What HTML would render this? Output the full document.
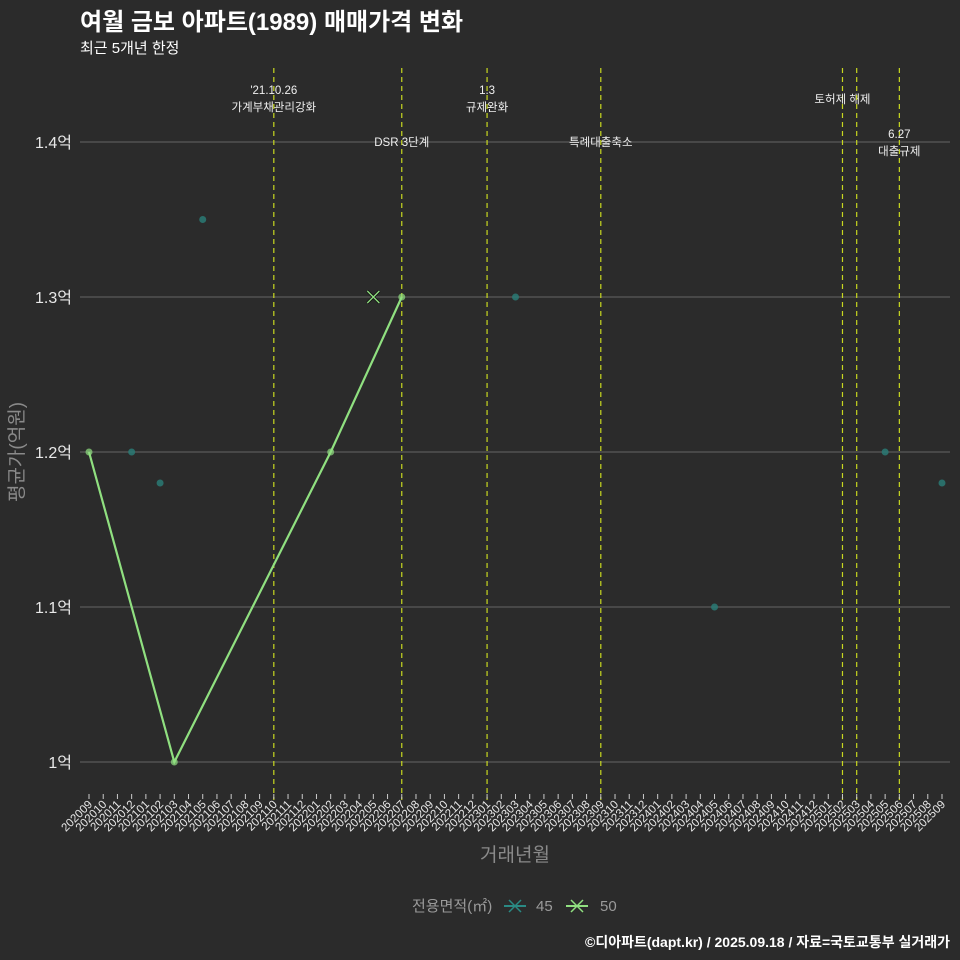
<!DOCTYPE html>
<html><head><meta charset="utf-8"><style>
body{margin:0;background:#2b2b2b;}
svg{display:block;font-family:"Liberation Sans","Noto Sans CJK KR",sans-serif;}
</style></head><body>
<svg id="c" width="960" height="960" viewBox="0 0 960 960">
<rect width="960" height="960" fill="#2b2b2b"/>
<text x="80" y="30" font-size="24" font-weight="bold" fill="#ffffff">여월 금보 아파트(1989) 매매가격 변화</text>
<text x="80" y="53" font-size="15" fill="#ffffff">최근 5개년 한정</text>
<g id="grid"></g>
<g id="vlines"></g>
<g id="marks"></g>
<g id="xaxis"></g>
<text x="515" y="861" font-size="19" fill="#8a8a8a" text-anchor="middle">거래년월</text>
<text transform="translate(23,452) rotate(-90)" font-size="19" fill="#8a8a8a" text-anchor="middle">평균가(억원)</text>
<g>
<text x="412" y="911" font-size="15" fill="#9a9a9a">전용면적(㎡)</text>
<g><line x1="504" y1="906" x2="526" y2="906" stroke="#2a8a84" stroke-width="2"/><path d="M509,900 L521,912 M521,900 L509,912" stroke="#2a8a84" stroke-width="1.5"/><text x="536" y="911" font-size="15" fill="#9a9a9a">45</text></g>
<g><line x1="566" y1="906" x2="588" y2="906" stroke="#90e080" stroke-width="2"/><path d="M571,900 L583,912 M583,900 L571,912" stroke="#90e080" stroke-width="1.5"/><text x="600" y="911" font-size="15" fill="#9a9a9a">50</text></g>
</g>
<text x="950" y="947" font-size="14" font-weight="bold" fill="#ffffff" text-anchor="end">©디아파트(dapt.kr) / 2025.09.18 / 자료=국토교통부 실거래가</text>
</svg>
<script>
const months=[];for(let y=2020;y<=2025;y++)for(let m=1;m<=12;m++){const k=y*100+m;if(k>=202009&&k<=202509)months.push(String(k));}
const yTicks=[1.0,1.1,1.2,1.3,1.4];
const yTickLabels=["1억","1.1억","1.2억","1.3억","1.4억"];
const s45Months=["202012","202102","202105","202303","202405","202505","202509"];
const s45Values=[1.2,1.18,1.35,1.3,1.1,1.2,1.18];
const s50Months=["202009","202103","202202","202207"];
const s50Values=[1.2,1.0,1.2,1.3];
const xMarkMonths=["202205"];
const xMarkValues=[1.3];
const eventMonths=["202110","202207","202301","202309","202502","202503","202506"];
const eventLabels=[["'21.10.26","가계부채관리강화"],["DSR 3단계"],["1.3","규제완화"],["특례대출축소"],["토허제 해제"],[],["6.27","대출규제"]];
const eventLabelY=[90,142,90,142,99,0,134];
const NS="http://www.w3.org/2000/svg";
const X=m=>89+months.indexOf(m)*(942-89)/(months.length-1);
const Y=v=>762-(v-1.0)*1550;
function mk(p,t,a){const e=document.createElementNS(NS,t);for(const k in a)e.setAttribute(k,a[k]);p.appendChild(e);return e;}
const grid=document.getElementById('grid');
yTicks.forEach((v,i)=>{
 const l=mk(grid,'line',{x1:80,x2:950,y1:Y(v),y2:Y(v),stroke:'#5a5a5a','stroke-width':1.2});
 
 
 const t=mk(grid,'text',{x:72,y:Y(v)+6,'font-size':16,fill:'#e8e8e8','text-anchor':'end'});t.textContent=yTickLabels[i];
 
 
});
const vl=document.getElementById('vlines');
eventMonths.forEach((m,i)=>{
 const x=X(m);
 const l=mk(vl,'line',{x1:x,x2:x,y1:68,y2:800,stroke:'#c8d820','stroke-width':1.2,'stroke-dasharray':'5,4'});
 
 
 eventLabels[i].forEach((s,j)=>{const t=mk(vl,'text',{x:x,y:eventLabelY[i]+4+j*17,'font-size':11.5,fill:'#f0f0f0','text-anchor':'middle'});t.textContent=s;
 
 });
});
const mg=document.getElementById('marks');
const pts=s50Months.map((m,i)=>X(m)+','+Y(s50Values[i])).join(' ');
const pl=mk(mg,'polyline',{points:pts,fill:'none',stroke:'#90e080','stroke-width':2.2});


s50Months.forEach((m,i)=>{const c=mk(mg,'circle',{cx:X(m),cy:Y(s50Values[i]),r:3.5,fill:'#90e080','fill-opacity':0.7});

});
s45Months.forEach((m,i)=>{const c=mk(mg,'circle',{cx:X(m),cy:Y(s45Values[i]),r:3.5,fill:'#2a7a74','fill-opacity':0.85});

});
xMarkMonths.forEach((m,i)=>{const x=X(m),y=Y(xMarkValues[i]);
const p=mk(mg,'path',{d:`M${x-6},${y-6}L${x+6},${y+6}M${x+6},${y-6}L${x-6},${y+6}`,stroke:'#111','stroke-width':3});


const q=mk(mg,'path',{d:`M${x-6},${y-6}L${x+6},${y+6}M${x+6},${y-6}L${x-6},${y+6}`,stroke:'#90e080','stroke-width':1.3});

});
const xa=document.getElementById('xaxis');
months.forEach(m=>{const x=X(m);
 const tk=mk(xa,'line',{x1:x,x2:x,y1:794,y2:799,stroke:'#cccccc'});
 
 
 const t=mk(xa,'text',{transform:`translate(${x+4},${805}) rotate(-45)`,'font-size':11.5,fill:'#e8e8e8','text-anchor':'end'});t.textContent=m;
 
 
});
</script>
</body></html>
